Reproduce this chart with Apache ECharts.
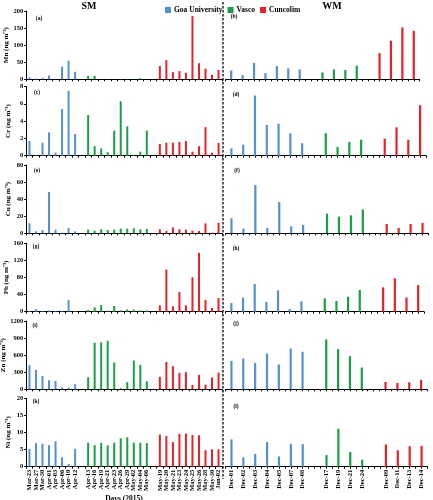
<!DOCTYPE html>
<html><head><meta charset="utf-8">
<script src="https://cdn.jsdelivr.net/npm/echarts@6/dist/echarts.min.js"></script>
<style>html,body{margin:0;padding:0;background:#fff}#c{width:433px;height:500px}</style>
</head><body><div id="c"></div>
<script>
const stations = ['Goa University', 'Vasco', 'Cuncolim'];
const colors = ['#5690cf', '#1a9e47', '#e3232b'];

const smGoaDays = ['Mar-23','Mar-27','Mar-30','Apr-01','Apr-03','Apr-06','Apr-10','Apr-12'];
const smVascoDays = ['Apr-13','Apr-16','Apr-19','Apr-21','Apr-23','Apr-26','Apr-29','May-02','May-04','May-06'];
const smCuncDays = ['May-19','May-20','May-21','May-23','May-24','May-25','May-26','May-28','May-30','Jun-02'];
const wmGoaDays = ['Dec-01','Dec-02','Dec-03','Dec-04','Dec-05','Dec-07','Dec-08'];
const wmVascoDays = ['Dec-17','Dec-19','Dec-21','Dec-24'];
const wmCuncDays = ['Dec-09','Dec-11','Dec-13','Dec-14'];

const elements = ['Mn','Cr','Cu','Pb','Zn','Ni'];
const yMax = [200, 8, 80, 160, 1200, 20];
const yStep = [50, 2, 20, 40, 300, 5];
const smLetters = ['(a)','(c)','(e)','(g)','(i)','(k)'];
const wmLetters = ['(b)','(d)','(f)','(h)','(j)','(l)'];

// Mn
const mnSMGoa = [6, 2, 4, 11, 0.5, 37, 54, 22];
const mnSMVasco = [10, 10, 0.5, 0.5, 0.5, 0.5, 1, 0.5, 3, 0.5];
const mnSMCunc = [39, 56, 21, 24, 19, 185, 47, 31, 13, 27];
const mnWMGoa = [26, 12, 48, 18, 39, 32, 29];
const mnWMVasco = [20, 29, 27, 40];
const mnWMCunc = [77, 113, 152, 142];
// Cr
const crSMGoa = [1.7, 0.05, 1.5, 2.7, 0.35, 5.4, 7.5, 2.5];
const crSMVasco = [4.7, 1.1, 0.85, 0.4, 2.9, 6.3, 3.4, 0.05, 0.46, 2.9];
const crSMCunc = [1.35, 1.5, 1.5, 1.6, 1.7, 0.46, 1.1, 3.3, 0.35, 1.47];
const crWMGoa = [0.85, 1.27, 6.95, 3.55, 3.7, 2.6, 1.43];
const crWMVasco = [2.6, 1.0, 1.6, 1.85];
const crWMCunc = [1.97, 3.28, 1.85, 5.83];
// Cu
const cuSMGoa = [11.7, 2.3, 3.8, 48.4, 4.3, 0.6, 6.2, 2.3];
const cuSMVasco = [4.3, 3.1, 4.7, 3.9, 4.3, 5.5, 5.5, 5.9, 4.7, 5.1];
const cuSMCunc = [4.7, 2.7, 7, 4.7, 4.3, 3.1, 2.7, 11.7, 0.8, 12.5];
const cuWMGoa = [17.6, 5.5, 56.6, 6.2, 36.7, 8.2, 9.8];
const cuWMVasco = [23, 19.5, 21, 28];
const cuWMCunc = [11, 6.2, 11, 12.1];
// Pb
const pbSMGoa = [2, 6, 1.5, 3, 1.5, 1.5, 27, 1.5];
const pbSMVasco = [4, 10, 15.6, 2.3, 13.3, 3, 5.5, 4.7, 3, 3];
const pbSMCunc = [14.8, 98.4, 12.5, 46, 14.8, 80.5, 137.5, 27.3, 8.6, 32];
const pbWMGoa = [20.3, 32.8, 64.8, 22.7, 50, 6.3, 24.2];
const pbWMVasco = [31.3, 25, 35, 50.8];
const pbWMCunc = [57, 78, 32.8, 62.5];
// Zn
const znSMGoa = [424, 341, 235, 159, 147, 35, 29, 88];
const znSMVasco = [212, 818, 824, 853, 471, 18, 124, 506, 429, 141];
const znSMCunc = [218, 482, 406, 288, 300, 76, 253, 82, 206, 294];
const znWMGoa = [500, 541, 465, 629, 435, 718, 659];
const znWMVasco = [876, 706, 582, 382];
const znWMCunc = [129, 112, 124, 165];
// Ni
const niSMGoa = [5.2, 6.9, 6.7, 6.3, 7.45, 2.75, 0.8, 5.2];
const niSMVasco = [7.0, 6.3, 7.0, 6.2, 7.0, 8.3, 8.6, 7.0, 7.0, 6.9];
const niSMCunc = [9.4, 9.0, 7.2, 9.6, 9.7, 9.3, 9.2, 4.8, 5.1, 5.1];
const niWMGoa = [8.0, 2.75, 3.7, 7.2, 3.0, 6.7, 6.6];
const niWMVasco = [3.4, 11.1, 4.3, 2.05];
const niWMCunc = [6.5, 4.8, 6.0, 6.1];

const smData = [
  [mnSMGoa, mnSMVasco, mnSMCunc], [crSMGoa, crSMVasco, crSMCunc], [cuSMGoa, cuSMVasco, cuSMCunc],
  [pbSMGoa, pbSMVasco, pbSMCunc], [znSMGoa, znSMVasco, znSMCunc], [niSMGoa, niSMVasco, niSMCunc]];
const wmData = [
  [mnWMGoa, mnWMVasco, mnWMCunc], [crWMGoa, crWMVasco, crWMCunc], [cuWMGoa, cuWMVasco, cuWMCunc],
  [pbWMGoa, pbWMVasco, pbWMCunc], [znWMGoa, znWMVasco, znWMCunc], [niWMGoa, niWMVasco, niWMCunc]];

// layout
const rowTop = [11, 86.5, 165, 243.3, 321, 398.3];
const rowBottom = [79.3, 155.7, 233.3, 311.7, 389.3, 466.7];
const smLeft = 26.2, smWidth = 195.6;
const wmLeft = 225.5;
const wmWidth = [194, 200.5, 203, 198.5, 201.5, 202];

const FONT = 'Liberation Serif';
let blank = 0;
const nb = () => ' '.repeat(++blank);

const smCats = [...smGoaDays, nb(), ...smVascoDays, nb(), ...smCuncDays];
const smOffsets = [0, smGoaDays.length + 1, smGoaDays.length + smVascoDays.length + 2];
const wmSlots = [...wmGoaDays, null, ...wmVascoDays, null, ...wmCuncDays];
const wmOffsets = [0, wmGoaDays.length + 1, wmGoaDays.length + wmVascoDays.length + 2];
const wmCats = [];
for (let i = 0; i < wmSlots.length * 2 + 1; i++) {
  if (i % 2 === 1 && wmSlots[(i - 1) / 2]) wmCats.push(wmSlots[(i - 1) / 2]);
  else wmCats.push(nb());
}

function smSeriesData(vals, off) {
  const a = smCats.map(() => '-');
  vals.forEach((v, k) => { a[off + k] = v; });
  return a;
}
function wmSeriesData(vals, off) {
  const a = wmCats.map(() => '-');
  vals.forEach((v, k) => { a[2 * (off + k) + 1] = v; });
  return a;
}

const grids = [], xAxes = [], yAxes = [], series = [], graphics = [];
const txt = {fontFamily: FONT, fontWeight: 'bold', color: '#000'};

for (let r = 0; r < 6; r++) {
  const top = rowTop[r], h = rowBottom[r] - rowTop[r];
  const last = r === 5;
  grids.push({left: smLeft, top: top, width: smWidth, height: h, containLabel: false, outerBoundsMode: 'none'});
  grids.push({left: wmLeft, top: top, width: wmWidth[r], height: h, containLabel: false, outerBoundsMode: 'none'});
  const gi = r * 2;
  const axisLine = {show: true, lineStyle: {color: '#000', width: 1}};
  const xLabel = {show: last, interval: 0, rotate: 90, fontSize: 6.5, margin: 3, ...txt};
  xAxes.push({type: 'category', gridIndex: gi, data: smCats, boundaryGap: true,
    axisLine: axisLine, axisTick: {show: true, interval: 0, length: 2, lineStyle: {color: '#000'}},
    axisLabel: xLabel,
    name: last ? 'Days (2015)' : '', nameLocation: 'middle', nameGap: 23,
    nameTextStyle: {fontSize: 7.5, ...txt}});
  xAxes.push({type: 'category', gridIndex: gi + 1, data: wmCats, boundaryGap: false,
    axisLine: axisLine, axisTick: {show: true, interval: 0, length: 2, lineStyle: {color: '#000'}},
    axisLabel: xLabel,
    name: last ? 'Days (2015)' : '', nameLocation: 'middle', nameGap: 23,
    nameTextStyle: {fontSize: 7.5, ...txt}});
  yAxes.push({type: 'value', gridIndex: gi, min: 0, max: yMax[r], interval: yStep[r],
    axisLine: axisLine, axisTick: {show: true, length: 2, lineStyle: {color: '#000'}},
    splitLine: {show: false},
    axisLabel: {fontSize: 6.5, margin: 3, formatter: v => String(v), ...txt},
    name: elements[r] + ' (ng m\u207B\u00B3)', nameLocation: 'middle', nameGap: 15,
    nameTextStyle: {fontSize: 7, ...txt}});
  yAxes.push({type: 'value', gridIndex: gi + 1, min: 0, max: yMax[r], interval: yStep[r], show: false,
    splitLine: {show: false}});
  for (let s = 0; s < 3; s++) {
    series.push({type: 'bar', name: stations[s], xAxisIndex: gi, yAxisIndex: gi,
      data: smSeriesData(smData[r][s], smOffsets[s]), barWidth: 2, barGap: '-100%',
      itemStyle: {color: colors[s]}});
    series.push({type: 'bar', name: stations[s], xAxisIndex: gi + 1, yAxisIndex: gi + 1,
      data: wmSeriesData(wmData[r][s], wmOffsets[s]), barWidth: 2.2, barGap: '-100%',
      itemStyle: {color: colors[s]}});
  }
}

const smLetterPos = [[39,19],[37,93],[37,171],[36,247],[35,326],[36,402]];
const wmLetterPos = [[234,17],[236,95],[237,171],[236,249],[236,324],[236,407]];
for (let r = 0; r < 6; r++) {
  graphics.push({type: 'text', x: smLetterPos[r][0], y: smLetterPos[r][1],
    style: {text: smLetters[r], font: 'bold 5.5px ' + FONT, fill: '#000', textAlign: 'center', textVerticalAlign: 'middle'}});
  graphics.push({type: 'text', x: wmLetterPos[r][0], y: wmLetterPos[r][1],
    style: {text: wmLetters[r], font: 'bold 5.5px ' + FONT, fill: '#000', textAlign: 'center', textVerticalAlign: 'middle'}});
}
graphics.push({type: 'line', shape: {x1: 223, y1: 2, x2: 223, y2: 479},
  style: {stroke: '#000', lineWidth: 1.3, lineDash: [2.5, 1.5]}});
graphics.push({type: 'text', x: 89, y: 6, style: {text: 'SM', font: 'bold 10px ' + FONT, fill: '#000', textAlign: 'center', textVerticalAlign: 'middle'}});
graphics.push({type: 'text', x: 332, y: 6, style: {text: 'WM', font: 'bold 10px ' + FONT, fill: '#000', textAlign: 'center', textVerticalAlign: 'middle'}});

const chart = echarts.init(document.getElementById('c'), null, {renderer: 'canvas'});
chart.setOption({
  animation: false,
  color: colors,
  legend: {data: stations, left: 160, top: 1, itemWidth: 6, itemHeight: 6, itemGap: 5, icon: 'rect',
    textStyle: {fontSize: 7.5, ...txt, padding: [0, 0, 0, -2]}},
  grid: grids, xAxis: xAxes, yAxis: yAxes, series: series, graphic: graphics
});
</script></body></html>
